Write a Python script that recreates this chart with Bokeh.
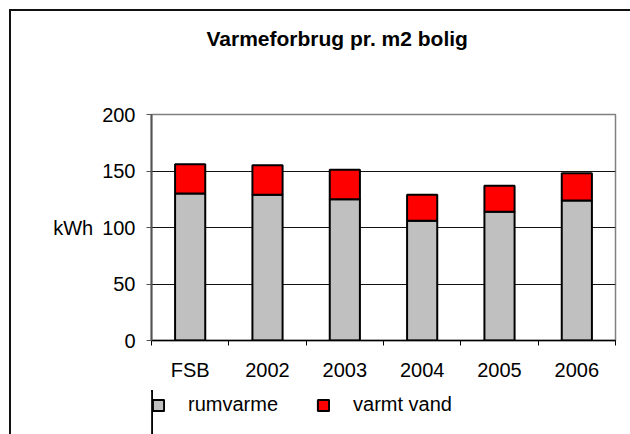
from bokeh.plotting import figure
from bokeh.layouts import column
from bokeh.models import (Range1d, FixedTicker, Legend, LegendItem, ColumnDataSource, Title)
from bokeh.embed import file_html
from bokeh.resources import INLINE

categories = ["FSB", "2002", "2003", "2004", "2005", "2006"]
rumvarme = [130, 129, 125, 106, 114, 124]
varmt_vand = [26, 26, 26, 23, 23, 24]
y_ticks = [0, 50, 100, 150, 200]
series_names = ["rumvarme", "varmt vand"]
series_colors = ["#C0C0C0", "#FF0000"]
title_text = "Varmeforbrug pr. m2 bolig"
y_label = "kWh"

FONT = "Liberation Sans"

xpos = [i + 0.5 for i in range(len(categories))]
src = ColumnDataSource(dict(x=xpos, cat=categories, rumvarme=rumvarme, varmt_vand=varmt_vand))

p = figure(width=619, height=379,
           x_range=Range1d(0, len(categories)), y_range=Range1d(y_ticks[0], y_ticks[-1]),
           output_backend="svg", toolbar_location=None,
           min_border_left=140, min_border_right=15, min_border_top=103, min_border_bottom=50)
p.background_fill_color = "white"
p.border_fill_color = "white"
p.outline_line_color = "#808080"
p.outline_line_width = 1.5

renderers = p.vbar_stack(["rumvarme", "varmt_vand"], x="x", width=0.39, color=series_colors,
                         line_color="black", line_width=2, source=src)

# title
p.title.text = title_text
p.title.text_font = FONT
p.title.text_font_size = "21px"
p.title.text_font_style = "bold"
p.title.text_color = "black"
p.title.align = "left"
p.title.offset = 55
p.title.standoff = 0
spacer = Title(text=" ", text_font_size="1px", standoff=62)
p.add_layout(spacer, "above")

# y axis
ya = p.yaxis[0]
ya.ticker = FixedTicker(ticks=y_ticks)
ya.major_tick_out = 5
ya.major_tick_in = 0
ya.minor_tick_out = 0
ya.minor_tick_in = 0
ya.axis_line_color = "#555555"
ya.axis_line_width = 2
ya.major_tick_line_color = "#555555"
ya.major_label_text_font = FONT
ya.major_label_text_font_size = "20px"
ya.major_label_text_color = "black"
ya.major_label_standoff = 11
ya.axis_label = y_label
ya.axis_label_orientation = "horizontal"
ya.axis_label_text_font = FONT
ya.axis_label_text_font_size = "20px"
ya.axis_label_text_font_style = "normal"
ya.axis_label_text_color = "black"
ya.axis_label_standoff = 6

# x axis
xa = p.xaxis[0]
xa.ticker = FixedTicker(ticks=xpos, minor_ticks=list(range(len(categories) + 1)))
xa.major_label_overrides = {xv: c for xv, c in zip(xpos, categories)}
xa.major_tick_out = 0
xa.major_tick_in = 0
xa.minor_tick_out = 5
xa.minor_tick_in = 0
xa.axis_line_color = "black"
xa.axis_line_width = 1.5
xa.minor_tick_line_color = "black"
xa.major_label_text_font = FONT
xa.major_label_text_font_size = "20px"
xa.major_label_text_color = "black"
xa.major_label_standoff = 13

p.xgrid.visible = False
p.ygrid.ticker = FixedTicker(ticks=y_ticks)
p.ygrid.grid_line_color = "#111111"
p.ygrid.grid_line_width = 1

# legend strip (its own canvas so the legend is not clipped by the plot frame);
# its bars use the same data but sit outside the strip's visible x range
lg = figure(width=619, height=44,
            x_range=Range1d(len(categories) + 1, len(categories) + 2), y_range=Range1d(0, 1),
            x_axis_type=None, y_axis_type=None, output_backend="svg", toolbar_location=None,
            min_border=0)
lg.outline_line_color = None
lg.background_fill_color = "white"
lg.border_fill_color = "white"
lg.grid.visible = False
lg_renderers = lg.vbar_stack(["rumvarme", "varmt_vand"], x="x", width=0.39, color=series_colors,
                             line_color="black", line_width=2, source=src)
legend = Legend(items=[LegendItem(label=n, renderers=[r]) for n, r in zip(series_names, lg_renderers)],
                orientation="horizontal", location=(0, 18),
                padding=0, margin=0, border_line_color=None, background_fill_alpha=0,
                glyph_width=14, glyph_height=14, label_height=14, label_standoff=23, spacing=38,
                label_text_font=FONT, label_text_font_size="20px", label_text_color="black")
lg.add_layout(legend)

layout = column(p, lg, spacing=0)
layout.margin = (9, 0, 0, 9)
layout.styles = {"border-left": "2px solid #111", "border-top": "2px solid #111"}

open("out.html", "w").write(file_html(layout, INLINE))
